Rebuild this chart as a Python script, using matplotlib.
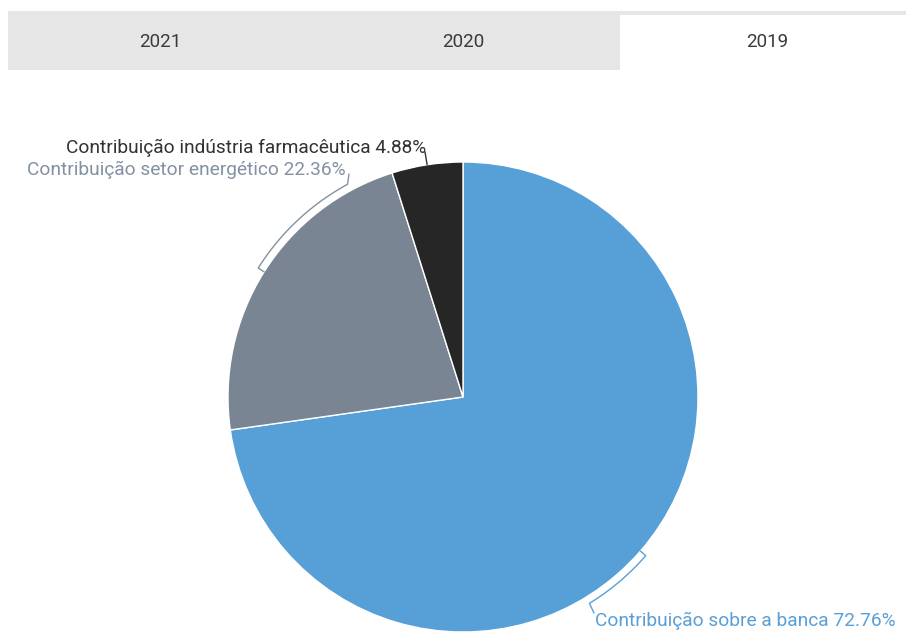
import numpy as np
import matplotlib
matplotlib.use("Agg")
import matplotlib.pyplot as plt
from matplotlib.patches import Rectangle

# Data
tabs = ["2021", "2020", "2019"]
active_tab = "2019"
categories = [
    "Contribuição sobre a banca",
    "Contribuição setor energético",
    "Contribuição indústria farmacêutica",
]
shares = [72.76, 22.36, 4.88]

# Styling
slice_colors = ["#579fd7", "#7a8594", "#262626"]
label_colors = ["#5a9fd6", "#8391a2", "#333333"]

W, H = 906, 632
cx, cy, R = 463, 397, 235

plt.rcParams["font.family"] = ["Roboto", "DejaVu Sans"]

fig = plt.figure(figsize=(W / 100, H / 100), dpi=100)
ax = fig.add_axes([0, 0, 1, 1])

# Tab bar
tab_left, tab_split = 8, 620
tab_centers = [160, 463, 767]
ax.add_patch(Rectangle((tab_left, 11), W - tab_left, 59, facecolor="#e6e6e6",
                       edgecolor="none", zorder=1))
ax.add_patch(Rectangle((tab_split, 15), W - tab_split, 55, facecolor="white",
                       edgecolor="none", zorder=2))
for t, xc in zip(tabs, tab_centers):
    ax.text(xc, 42, t, ha="center", va="center", fontsize=13.5,
            color="#3a3a3a", zorder=3)

# Pie (y axis points down, so counterclock=True runs clockwise on screen)
ax.pie(shares, colors=slice_colors, center=(cx, cy), radius=R,
       startangle=-90, counterclock=True, frame=True,
       wedgeprops=dict(edgecolor="white", linewidth=1.0))
ax.set_xlim(0, W)
ax.set_ylim(H, 0)
ax.set_aspect("equal")
ax.axis("off")


def pt(angle_deg, r):
    a = np.deg2rad(angle_deg)
    return cx + r * np.sin(a), cy - r * np.cos(a)


# Label layout: arc end angle (deg clockwise from top), anchor point, text position, alignment
label_layout = [
    dict(arc_end=148.5, anchor=(594, 613), text=(595, 621), ha="left"),
    dict(arc_end=331.5, anchor=(349, 174), text=(346, 170), ha="right"),
    dict(arc_end=None, anchor=(425, 152), text=(426, 148), ha="right"),
]

total = sum(shares)
cum = 0.0
r_out = R + 7
for name, val, col, lay in zip(categories, shares, label_colors, label_layout):
    mid = 360.0 * (cum + val / 2) / total
    cum += val
    xs, ys = [], []
    x, y = pt(mid, R)
    xs.append(x); ys.append(y)
    if lay["arc_end"] is not None:
        for a in np.linspace(mid, lay["arc_end"], 60):
            x, y = pt(a, r_out)
            xs.append(x); ys.append(y)
    xs.append(lay["anchor"][0]); ys.append(lay["anchor"][1])
    ax.plot(xs, ys, color=col, linewidth=1.0, zorder=4, solid_capstyle="round")
    ax.text(lay["text"][0], lay["text"][1], f"{name} {val:.2f}%",
            ha=lay["ha"], va="center", fontsize=13.8, color=col, zorder=5)

fig.savefig("out.png", dpi=100)
